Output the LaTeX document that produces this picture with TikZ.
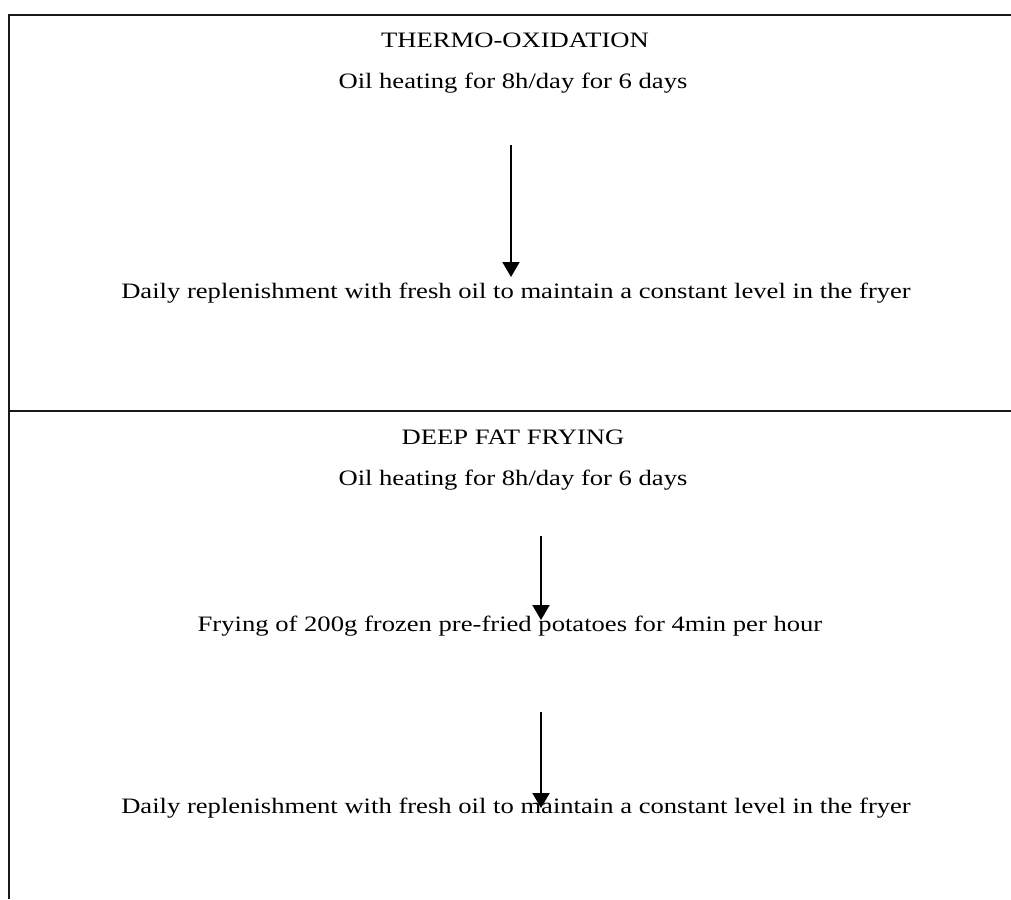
\documentclass[tikz,border=0pt]{standalone}
\usepackage{fontspec}
\setmainfont{Liberation Serif}
\newfontfamily\widefont[FakeStretch=1.21]{Liberation Serif}
\usetikzlibrary{arrows.meta}
\begin{document}
\begin{tikzpicture}[x=0.5pt,y=-0.5pt,
  txt/.style={anchor=base,inner sep=0pt,font=\widefont\fontsize{11}{13}\selectfont},
  rule/.style={line width=1pt,black!90},
  flow/.style={line width=1pt,-{Triangle[width=8.5pt,length=7.5pt]}}]
\useasboundingbox (0,0) rectangle (1011,899);
\draw[rule] (8.5,899) -- (8.5,15) -- (1011,15);
\draw[rule] (8.5,411) -- (1011,411);
\node[txt] (t1) at (515,48) {THERMO-OXIDATION};
\node[txt] (h1) at (513,89) {Oil heating for 8h/day for 6 days};
\node[txt] (d1) at (516,298) {Daily replenishment with fresh oil to maintain a constant level in the fryer};
\node[txt] (t2) at (513,444) {DEEP FAT FRYING};
\node[txt] (h2) at (513,485) {Oil heating for 8h/day for 6 days};
\node[txt] (f2) at (510,631) {Frying of 200g frozen pre-fried potatoes for 4min per hour};
\node[txt] (d2) at (516,813) {Daily replenishment with fresh oil to maintain a constant level in the fryer};
\coordinate (a1s) at (511,145); \coordinate (a1e) at (511,277);
\coordinate (a2s) at (541,536); \coordinate (a2e) at (541,620);
\coordinate (a3s) at (541,712); \coordinate (a3e) at (541,808);
\draw[flow] (a1s) -- (a1e);
\draw[flow] (a2s) -- (a2e);
\draw[flow] (a3s) -- (a3e);
\end{tikzpicture}
\end{document}
